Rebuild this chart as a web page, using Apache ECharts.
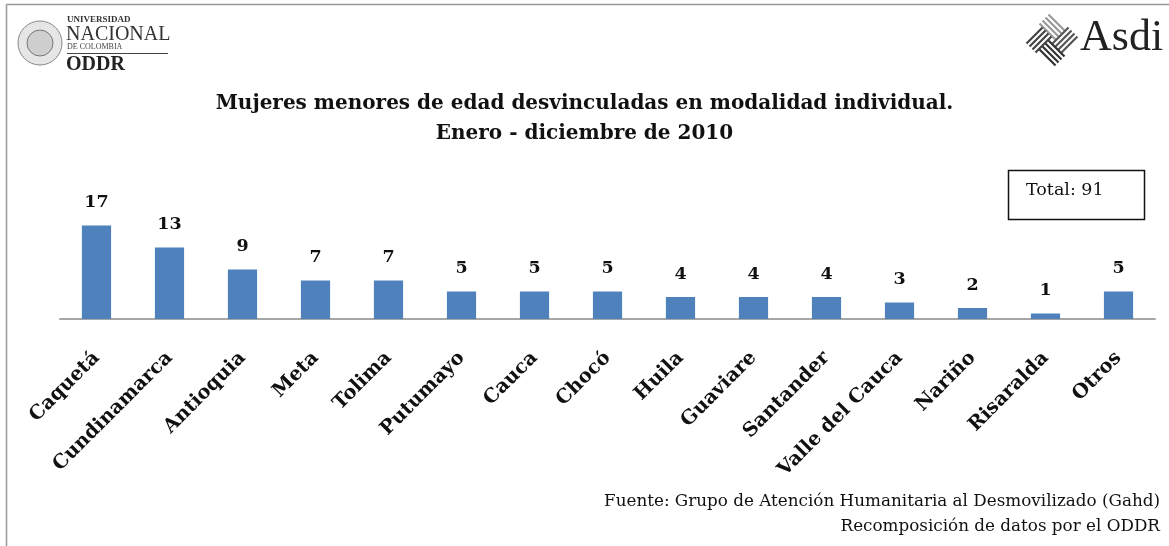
<!DOCTYPE html>
<html><head><meta charset="utf-8">
<script src="https://cdn.jsdelivr.net/npm/echarts@6/dist/echarts.min.js"></script>
<style>html,body{margin:0;padding:0;background:#fff}#c{width:1169px;height:546px}</style>
</head><body><div id="c"></div>
<script>
const categories = ['Caquetá','Cundinamarca','Antioquia','Meta','Tolima','Putumayo','Cauca','Chocó','Huila','Guaviare','Santander','Valle del Cauca','Nariño','Risaralda','Otros'];
const values = [17,13,9,7,7,5,5,5,4,4,4,3,2,1,5];
const titleLines = ['Mujeres menores de edad desvinculadas en modalidad individual.','Enero - diciembre de 2010'];
const totalText = 'Total: 91';
const sourceLines = ['Fuente: Grupo de Atención Humanitaria al Desmovilizado (Gahd)','Recomposición de datos por el ODDR'];

const SERIF = '"DejaVu Serif", "Liberation Serif", serif';
const TSERIF = '"Liberation Serif", serif';
const chart = echarts.init(document.getElementById('c'), null, {renderer:'canvas'});

// Asdi woven mark: four groups of diagonal strokes
const weave = [];
function strokes(cx, cy, dir, n, color){
  for(let i=0;i<n;i++){
    const o=(i-(n-1)/2)*4.2;
    let x1,y1,x2,y2;
    if(dir===1){ x1=cx-8+o*0.707; y1=cy+8+o*0.707; x2=cx+8+o*0.707; y2=cy-8+o*0.707;}
    else { x1=cx-8-o*0.707; y1=cy-8+o*0.707; x2=cx+8-o*0.707; y2=cy+8+o*0.707; }
    weave.push({type:'line',shape:{x1,y1,x2,y2},style:{stroke:color,lineWidth:2.2}});
  }
}
strokes(1052,27,2,4,'#9a9a9a');
strokes(1065,40,1,4,'#555');
strokes(1052,53,2,4,'#333');
strokes(1039,40,1,4,'#444');

chart.setOption({
  backgroundColor:'#fff',
  animation:false,
  grid:{left:60,top:209,width:1095,height:110,containLabel:false},
  xAxis:{type:'category',data:categories,
    axisLine:{lineStyle:{color:'#a6a6a6',width:2}},
    axisTick:{show:false},
    axisLabel:{interval:0,rotate:45,margin:36,fontFamily:SERIF,fontWeight:'bold',fontSize:19.5,color:'#111'}},
  yAxis:{type:'value',min:0,max:20,show:false,splitLine:{show:false}},
  series:[{type:'bar',data:values,barWidth:'40%',
    itemStyle:{color:'#4f81bd'},
    label:{show:true,position:'top',distance:14,fontFamily:SERIF,fontWeight:'bold',fontSize:17.5,color:'#111'}}],
  graphic:[
    {type:'line',shape:{x1:6,y1:4.5,x2:1169,y2:4.5},style:{stroke:'#999',lineWidth:1.5}},
    {type:'line',shape:{x1:6.5,y1:4,x2:6.5,y2:546},style:{stroke:'#999',lineWidth:1.5}},
    {type:'text',left:'center',top:94,style:{text:titleLines[0],font:'bold 20px '+SERIF,fill:'#111',textAlign:'center'}},
    {type:'text',left:'center',top:124,style:{text:titleLines[1],font:'bold 20px '+SERIF,fill:'#111',textAlign:'center'}},
    {type:'rect',shape:{x:1008.5,y:170.5,width:136,height:49},style:{fill:'#fff',stroke:'#111',lineWidth:1.5}},
    {type:'text',x:1026,y:181,style:{text:totalText,font:'17.5px '+SERIF,fill:'#111'}},
    {type:'text',right:9,top:493,style:{text:sourceLines[0],font:'16.8px '+SERIF,fill:'#111'}},
    {type:'text',right:9,top:518,style:{text:sourceLines[1],font:'16.8px '+SERIF,fill:'#111'}},
    // UN logo
    {type:'circle',shape:{cx:40,cy:43,r:22},style:{fill:'#e6e6e6',stroke:'#888',lineWidth:1}},
    {type:'circle',shape:{cx:40,cy:43,r:13},style:{fill:'#cfcfcf',stroke:'#777',lineWidth:1}},
    {type:'text',x:67,y:15,style:{text:'UNIVERSIDAD',font:'bold 9px '+TSERIF,fill:'#333'}},
    {type:'text',x:66,y:25,style:{text:'NACIONAL',font:'20px '+TSERIF,fill:'#333'}},
    {type:'text',x:67,y:43,style:{text:'DE COLOMBIA',font:'8px '+TSERIF,fill:'#444'}},
    {type:'line',shape:{x1:67,y1:53.5,x2:168,y2:53.5},style:{stroke:'#444',lineWidth:1}},
    {type:'text',x:66,y:55,style:{text:'ODDR',font:'bold 20px '+TSERIF,fill:'#222'}},
    // Asdi logo
    {type:'group',children:weave},
    {type:'text',x:1080,y:16,style:{text:'Asdi',font:'44px '+TSERIF,fill:'#222'}}
  ]
});
</script></body></html>
